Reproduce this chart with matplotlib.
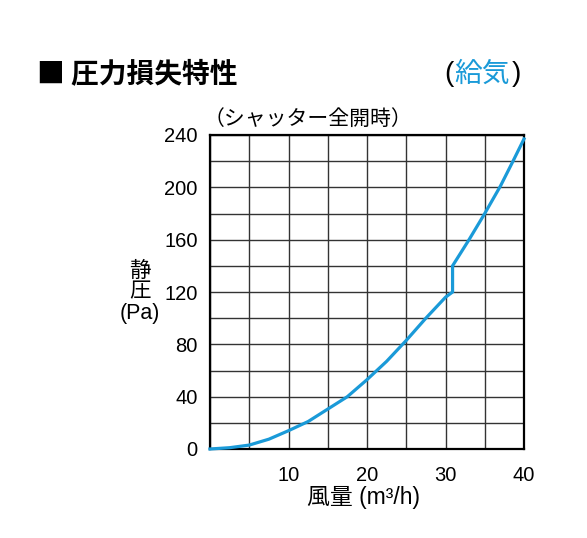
import numpy as np
import matplotlib.pyplot as plt
from matplotlib.ticker import MultipleLocator

plt.rcParams['font.family'] = ['Liberation Sans', 'Noto Sans CJK JP', 'DejaVu Sans']

# 風量 (m3/h) と 静圧 (Pa)
flow = [0, 2.5, 5, 7.5, 10, 12.5, 15, 17.5, 20, 22.5, 25, 27.5, 30, 30.9, 30.9, 33, 35, 37, 38.6, 40]
pressure = [0, 1, 3, 7.5, 14, 21, 30.5, 40, 53, 67, 83, 100, 116, 120, 140, 160, 180, 201, 220, 237]
x_ticks = [10, 20, 30, 40]
y_ticks = [0, 40, 80, 120, 160, 200, 240]

W, H = 587, 538
fig = plt.figure(figsize=(W / 100, H / 100), dpi=100)
ax = fig.add_axes([210 / W, 1 - 449 / H, 314 / W, 314 / H])

def fx(px):
    return px / W

def fy(py):
    return 1 - py / H

ax.plot(flow, pressure, color='#1a9ad8', lw=2.3, solid_joinstyle='miter', zorder=3, clip_on=False)

ax.set_xlim(0, 40)
ax.set_ylim(0, 240)
ax.set_xticks(x_ticks)
ax.set_yticks(y_ticks)
ax.xaxis.set_minor_locator(MultipleLocator(5))
ax.yaxis.set_minor_locator(MultipleLocator(20))
ax.grid(True, which='both', color='#333333', lw=1.0)
ax.tick_params(which='both', length=0, labelsize=14.5, colors='black')
ax.tick_params(axis='x', pad=12)
ax.tick_params(axis='y', pad=9)
for s in ax.spines.values():
    s.set_linewidth(1.6)
    s.set_color('black')

cjk = ['Noto Sans CJK JP', 'DejaVu Sans']
fig.text(fx(37), fy(74), '■ 圧力損失特性', family=cjk, fontsize=20, fontweight='bold', ha='left', va='center')
fig.text(fx(449), fy(74), '(', family=['Liberation Sans'], fontsize=20, ha='center', va='center')
fig.text(fx(482.5), fy(74), '給気', family=cjk, fontsize=20, color='#1a9ad8', ha='center', va='center')
fig.text(fx(516), fy(74), ')', family=['Liberation Sans'], fontsize=20, ha='center', va='center')
fig.text(fx(204), fy(119), '（シャッター全開時）', family=cjk, fontsize=15, ha='left', va='center')
fig.text(fx(140), fy(292), '静\n圧\n(Pa)', fontsize=15.5, ha='center', va='center', linespacing=1.0)
fig.text(fx(363.5), fy(497), '風量 (m³/h)', fontsize=16.5, ha='center', va='center')

fig.savefig('out.png', dpi=100)
